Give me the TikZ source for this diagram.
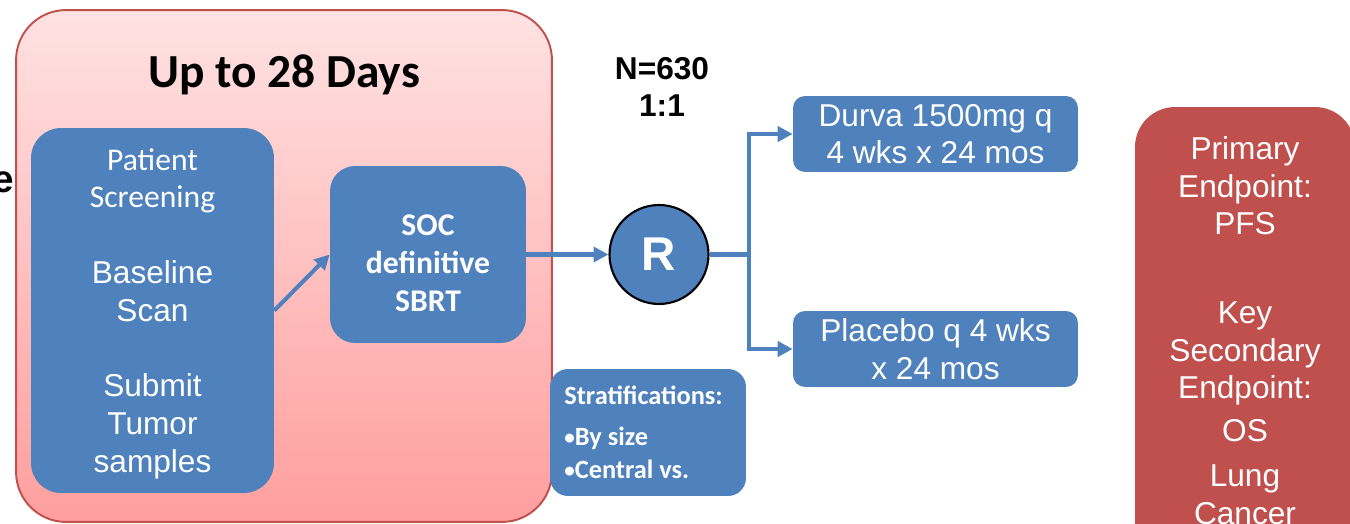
\documentclass[tikz,border=0pt]{standalone}
\usepackage{fontspec}
\setmainfont{Liberation Sans}
\newfontfamily\calibri{Carlito}
\usetikzlibrary{arrows.meta,positioning,calc}
\definecolor{SlideBlue}{RGB}{79,129,189}
\definecolor{SlideRed}{RGB}{192,80,77}
\definecolor{PinkTop}{RGB}{255,226,226}
\definecolor{PinkBottom}{RGB}{255,158,158}
\tikzset{
  arr/.style={-{Triangle[length=8.5pt,width=8.5pt]}, line width=2.3pt, draw=SlideBlue},
  box/.style={
    fill=SlideBlue, text=white, align=center, inner sep=0pt,
    font=\fontsize{18}{21.5}\selectfont
  },
  phasebox/.style={
    draw=SlideRed, line width=1.1pt, rounded corners=1cm,
    top color=PinkTop, bottom color=PinkBottom
  },
  boldlabel/.style={font=\fontsize{18}{21.5}\selectfont\bfseries, align=center, inner sep=0pt},
  callabel/.style={font=\fontsize{18}{21.5}\selectfont\calibri\bfseries, text=white, align=center, inner sep=0pt},
}
\newcommand{\smallbullet}{\raisebox{0.5pt}{\fontsize{12}{12}\selectfont\textbullet}}

\begin{document}
\begin{tikzpicture}[x=0.02cm,y=-0.02cm]
\useasboundingbox (0,0) rectangle (1350,524);
\clip (0,0) rectangle (1350,524);

% ---- Screening phase ----
\node[phasebox, minimum width=10.72cm, minimum height=10.24cm] (phase) at (284,266) {};
\node[font=\fontsize{27}{32}\selectfont\calibri\bfseries, inner sep=0pt] (title) at (284,75) {Up to 28 Days};
\node[font=\fontsize{22}{26}\selectfont\bfseries, inner sep=0pt, anchor=east] (cut) at (14,182) {e};

\node[box, rounded corners=0.6cm, minimum width=4.86cm, minimum height=7.3cm] (screen) at (152.5,310.5) {};
\node[box, fill=none] (screenlbl) at ($(screen.center)+(0,3)$) {
  {\calibri Patient}\\{\calibri Screening}\\[21.5pt]
  Baseline\\Scan\\[21.5pt]
  Submit\\Tumor\\samples
};

\node[box, rounded corners=0.5cm, minimum width=3.92cm, minimum height=3.54cm] (soc) at (428,254.5) {};
\node[callabel] (soclbl) at ($(soc.center)+(0,9)$) {SOC\\definitive\\SBRT};

% ---- Randomisation ----
\node[circle, fill=SlideBlue, draw=black, line width=1.2pt, minimum size=1.98cm, inner sep=0pt,
  text=white, font=\fontsize{27}{32}\selectfont\bfseries] (rand) at (659,254.5) {R};
\node[boldlabel] (ratio) at (662,87) {N=630\\1:1};
\coordinate (fork) at (749,254.5);

% ---- Arms ----
\node[box, rounded corners=0.24cm, minimum width=5.7cm, minimum height=1.52cm] (durva) at (935.5,134)
  {Durva 1500mg q\\4 wks x 24 mos};
\node[box, rounded corners=0.24cm, minimum width=5.7cm, minimum height=1.52cm] (placebo) at (935.5,349)
  {Placebo q 4 wks\\x 24 mos};

% ---- Stratifications ----
\node[box, rounded corners=0.36cm, minimum width=3.92cm, minimum height=2.54cm] (strat) at (648,432.5) {};
\node[anchor=north west, inner sep=0pt, text=white, align=left,
  font=\fontsize{15}{18.7}\selectfont\calibri\bfseries] (stratlbl) at (564,386)
  {Stratifications:\\[4.5pt]\smallbullet By size\\\smallbullet Central vs.};

% ---- Endpoints ----
\node[box, fill=SlideRed, rounded corners=0.8cm, minimum width=4.4cm, minimum height=9.32cm] (endpts) at (1245,340) {};
\node[anchor=north, inner sep=0pt, text=white, align=center,
  font=\fontsize{18}{21.5}\selectfont] (endlbl) at (1245,136) {
  Primary\\Endpoint:\\PFS\\[28.9pt]
  Key\\Secondary\\Endpoint:\\[2.8pt]OS\\[4pt]Lung\\Cancer
};

% ---- Arrows ----
\draw[arr] (screen.east) -- (soc.west);
\draw[arr] (soc.east) -- (rand.west);
\draw[arr] (rand.east) -- (fork) |- (durva.west);
\draw[arr] (fork) |- (placebo.west);

\end{tikzpicture}
\end{document}
